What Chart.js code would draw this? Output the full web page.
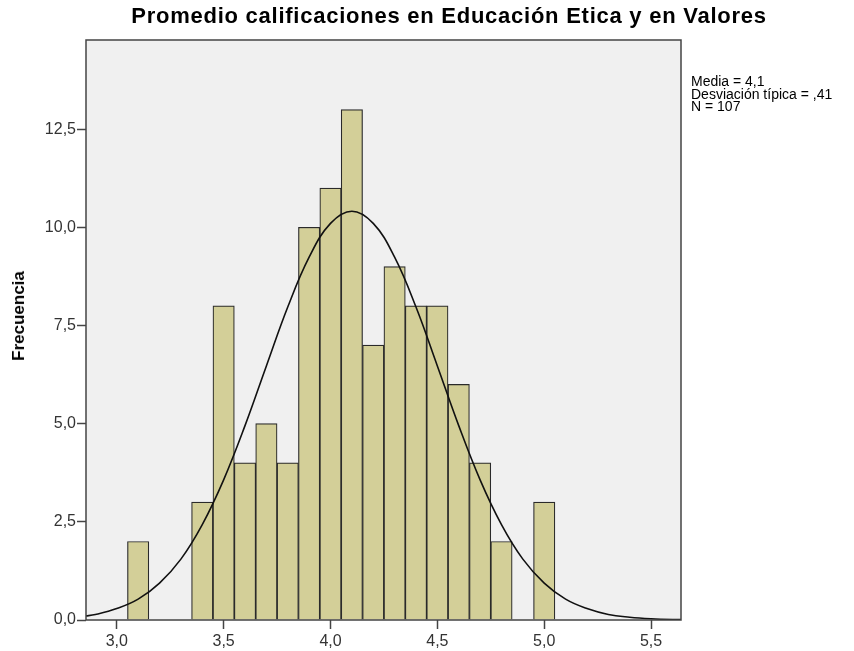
<!DOCTYPE html>
<html>
<head>
<meta charset="utf-8">
<script src="https://cdn.jsdelivr.net/npm/chart.js@4.4.1/dist/chart.umd.min.js"></script>
<style>
  body { margin: 0; background: #fff; }
  #wrap { position: relative; width: 854px; height: 651px; font-family: "Liberation Sans", Arial, sans-serif; }
  #title { position: absolute; left: 0; width: 898px; top: 3px; text-align: center; font-weight: bold; font-size: 22px; letter-spacing: 0.75px; color: #000; white-space: nowrap; }
  #ylab { position: absolute; left: 19px; top: 316px; transform: translate(-50%, -50%) rotate(-90deg); font-weight: bold; font-size: 17px; color: #000; white-space: nowrap; }
  #stats { position: absolute; left: 691px; top: 75px; font-size: 14px; line-height: 12.5px; color: #000; white-space: nowrap; }
</style>
</head>
<body>
<div id="wrap">
  <canvas id="c" width="854" height="651"></canvas>
  <div id="title">Promedio calificaciones en Educación Etica y en Valores</div>
  <div id="ylab">Frecuencia</div>
  <div id="stats">Media = 4,1<br>Desviación típica = ,41<br>N = 107</div>
</div>
<script>
// ---------- Data ----------
const binCenters = [3.1, 3.4, 3.5, 3.6, 3.7, 3.8, 3.9, 4.0, 4.1, 4.2, 4.3, 4.4, 4.5, 4.6, 4.7, 4.8, 5.0];
const counts     = [2,   3,   8,   4,   5,   4,   10,  11,  13,  7,   9,   8,   8,   6,   4,   2,   3];

// normal curve as drawn
const curveX = [2.85, 2.9, 3.0, 3.1, 3.2, 3.3, 3.4, 3.5, 3.6, 3.7, 3.8, 3.9, 4.0, 4.1,
                4.2, 4.3, 4.4, 4.5, 4.6, 4.7, 4.8, 4.9, 5.0, 5.1, 5.2, 5.3, 5.4, 5.5, 5.6, 5.65];
const curveY = [0.10, 0.14, 0.29, 0.53, 0.94, 1.55, 2.43, 3.57, 4.95, 6.47, 7.97, 9.24, 10.10, 10.41,
                10.10, 9.24, 7.97, 6.47, 4.95, 3.57, 2.43, 1.55, 0.94, 0.53, 0.29, 0.14, 0.07, 0.03, 0.01, 0.01];

const xTicks = [3.0, 3.5, 4.0, 4.5, 5.0, 5.5];
const yTicks = [0, 2.5, 5.0, 7.5, 10.0, 12.5];

const fmtComma = v => Number(v).toFixed(1).replace(".", ",");

// ---------- Plot frame ----------
const framePlugin = {
  id: "frame",
  beforeDatasetsDraw(chart) {
    const a = chart.chartArea, ctx = chart.ctx;
    ctx.save();
    ctx.fillStyle = "#f0f0f0";
    ctx.fillRect(a.left, a.top, a.right - a.left, a.bottom - a.top);
    ctx.restore();
  },
  afterDraw(chart) {
    const a = chart.chartArea, ctx = chart.ctx;
    ctx.save();
    ctx.strokeStyle = "#444";
    ctx.lineWidth = 1.5;
    ctx.strokeRect(a.left, a.top, a.right - a.left, a.bottom - a.top);
    ctx.restore();
  }
};

const tickFont = { family: "'Liberation Sans', Arial, sans-serif", size: 16 };

new Chart(document.getElementById("c"), {
  type: "bar",
  data: {
    datasets: [
      {
        type: "line",
        data: curveX.map((x, i) => ({ x, y: curveY[i] })),
        borderColor: "#111",
        borderWidth: 1.6,
        pointRadius: 0,
        tension: 0.4,
        fill: false,
        order: 0
      },
      {
        data: binCenters.map((x, i) => ({ x, y: counts[i] })),
        backgroundColor: "#d3cf98",
        borderColor: "#2a2a2a",
        borderWidth: 1.2,
        barPercentage: 1,
        categoryPercentage: 1,
        order: 1
      }
    ]
  },
  options: {
    responsive: false,
    animation: false,
    events: [],
    layout: { padding: { left: 0, right: 173, top: 40, bottom: 0 } },
    plugins: { legend: { display: false }, tooltip: { enabled: false } },
    scales: {
      x: {
        type: "linear",
        min: 2.856,
        max: 5.64,
        offset: false,
        afterFit: s => { s.height = 31; },
        afterBuildTicks: s => { s.ticks = xTicks.map(v => ({ value: v })); },
        grid: { offset: false, drawOnChartArea: false, tickLength: 9, color: "#444", tickWidth: 1.5 },
        border: { display: false },
        ticks: { font: tickFont, color: "#333", padding: 3, maxRotation: 0, callback: v => fmtComma(v) }
      },
      y: {
        min: 0,
        max: 14.77,
        afterFit: s => { s.width = 86; },
        afterBuildTicks: s => { s.ticks = yTicks.map(v => ({ value: v })); },
        grid: { drawOnChartArea: false, tickLength: 9, color: "#444", tickWidth: 1.5 },
        border: { display: false },
        ticks: { font: tickFont, color: "#333", padding: 1, callback: v => fmtComma(v) }
      }
    }
  },
  plugins: [framePlugin]
});
</script>
</body>
</html>
